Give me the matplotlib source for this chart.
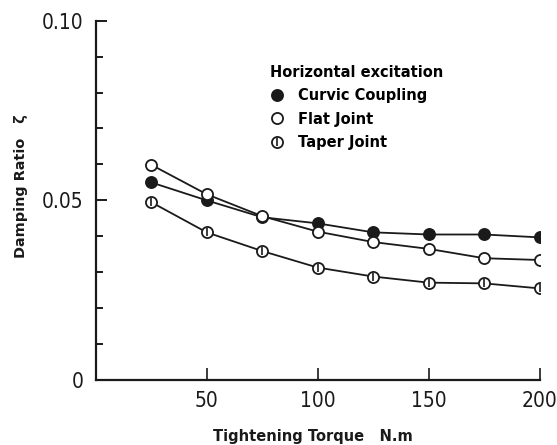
import matplotlib
matplotlib.use("Agg")
import matplotlib.pyplot as plt
from matplotlib.ticker import MultipleLocator, FixedLocator, FuncFormatter
from matplotlib.legend_handler import HandlerTuple

torque = [25, 50, 75, 100, 125, 150, 175, 200]
curvic = [0.0550, 0.0500, 0.0453, 0.0436, 0.0411, 0.0405, 0.0405, 0.0397]
flat = [0.0599, 0.0517, 0.0456, 0.0413, 0.0384, 0.0365, 0.0339, 0.0334]
taper = [0.0495, 0.0411, 0.0359, 0.0313, 0.0288, 0.0271, 0.0269, 0.0255]

x_ticks = [50, 100, 150, 200]
legend_title = "Horizontal excitation"
labels = ["Curvic Coupling", "Flat Joint", "Taper Joint"]

ink = "#1a1a1a"

fig = plt.figure(figsize=(5.57, 4.45), dpi=100)
ax = fig.add_axes([0.1718, 0.146, 0.797, 0.8075])

ms = 8
h1, = ax.plot(torque, curvic, "-o", color=ink, lw=1.3, ms=ms, mfc=ink, mec=ink, mew=1.3, zorder=3)
h2, = ax.plot(torque, flat, "-o", color=ink, lw=1.3, ms=ms, mfc="white", mec=ink, mew=1.3, zorder=3)
h3, = ax.plot(torque, taper, "-o", color=ink, lw=1.3, ms=ms, mfc="white", mec=ink, mew=1.3, zorder=3)
h3b, = ax.plot(torque, taper, "|", color=ink, ms=ms - 2, mew=1.2, zorder=4)

ax.set_xlim(0, 200)
ax.set_ylim(0, 0.10)

for s in ["top", "right"]:
    ax.spines[s].set_visible(False)
for s in ["left", "bottom"]:
    ax.spines[s].set_linewidth(1.6)
    ax.spines[s].set_color(ink)

ax.xaxis.set_major_locator(FixedLocator(x_ticks))
ax.yaxis.set_major_locator(MultipleLocator(0.05))
ax.yaxis.set_minor_locator(MultipleLocator(0.01))
ax.yaxis.set_major_formatter(FuncFormatter(lambda v, p: "0" if abs(v) < 1e-9 else f"{v:.2f}"))

ax.tick_params(axis="x", which="major", direction="in", length=9, width=1.2, color=ink, pad=8)
ax.tick_params(axis="y", which="major", direction="in", length=8, width=1.4, color=ink, pad=9)
ax.tick_params(axis="y", which="minor", direction="in", length=5, width=1.4, color=ink)
for lab in ax.get_xticklabels() + ax.get_yticklabels():
    lab.set_fontfamily("DejaVu Sans")
    lab.set_fontstretch("condensed")
    lab.set_fontsize(15)
    lab.set_color(ink)

ax.set_xlabel("Tightening Torque   N.m", fontsize=10.5, fontweight="bold", color=ink)
ax.xaxis.set_label_coords(0.49, -0.137)
ax.set_ylabel("Damping Ratio   ζ", fontsize=10.4, fontweight="bold", color=ink)
ax.yaxis.set_label_coords(-0.152, 0.54)

leg = ax.legend([h1, h2, (h3, h3b)], labels, title=legend_title,
                handler_map={tuple: HandlerTuple(ndivide=1, pad=0)},
                loc="upper left", bbox_to_anchor=(0.377, 0.898), frameon=False,
                prop={"weight": "bold", "size": 10.5},
                title_fontproperties={"weight": "bold", "size": 10.5},
                alignment="left", borderpad=0, handlelength=0.9,
                handletextpad=1.0, labelspacing=0.58)
for h in leg.legend_handles:
    if hasattr(h, "set_linestyle"):
        h.set_linestyle("none")
for ln in leg.get_lines():
    ln.set_linestyle("none")

fig.savefig("out.png", dpi=100, facecolor="white")
